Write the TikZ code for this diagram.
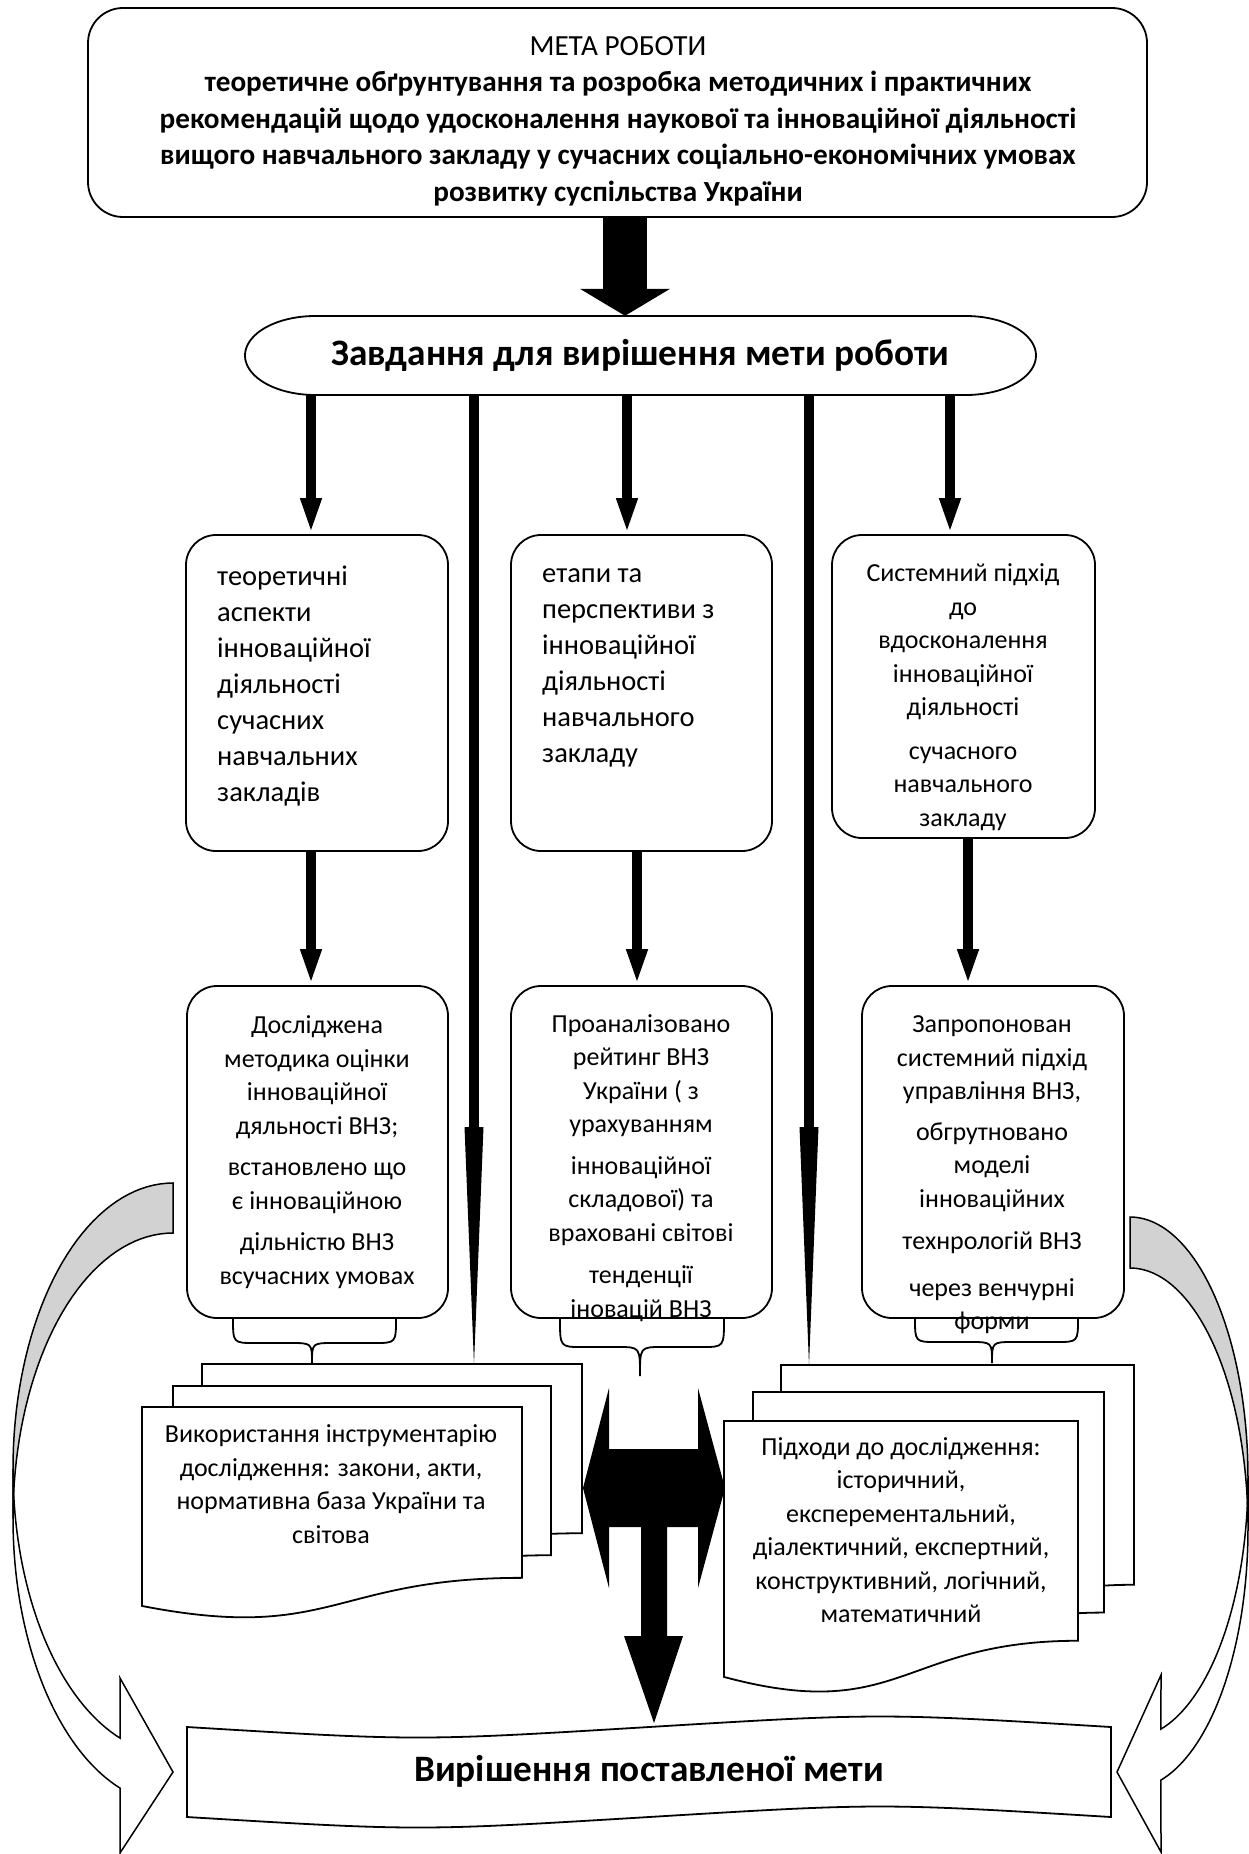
\documentclass[tikz,border=0pt]{standalone}
\usepackage{fontspec}
\setmainfont{Carlito}
\usetikzlibrary{arrows.meta}
\begin{document}
\begin{tikzpicture}[x=1pt,y=-1pt,
  rbox/.style={draw, line width=1.8pt, rounded corners=30pt, fill=white, inner sep=0pt},
  lbl/.style={inner sep=0pt, align=center},
  bigf/.style={font=\fontsize{28.5}{36}\selectfont},
  goalf/.style={font=\fontsize{29.2}{36.5}\selectfont},
  smf/.style={font=\fontsize{26}{33.5}\selectfont},
  headf/.style={font=\fontsize{37.3}{42}\selectfont\bfseries},
  thickarrow/.style={line width=10pt, -{Triangle[length=36pt,width=19pt]}},
  shaft/.style={line width=10pt},
  bracestyle/.style={line width=1.8pt},
  docstyle/.style={draw, line width=1.8pt, fill=white},
  curvestyle/.style={draw, line width=1.5pt},
]
\useasboundingbox (0,0) rectangle (1249,1854);

% ---------- curved side arrows (background) ----------
% left
\filldraw[curvestyle, fill=gray!35]
  plot[domain=270:180, samples=40, variable=\t] ({173+160*cos(\t)},{1468.6+285.6*sin(\t)})
  -- plot[domain=180:270, samples=40, variable=\t] ({173+160*cos(\t)},{1518.6+285.6*sin(\t)}) -- cycle;
\filldraw[curvestyle, fill=white]
  plot[domain=180:109.3, samples=40, variable=\t] ({173+160*cos(\t)},{1468.6+285.6*sin(\t)})
  -- (120,1678) -- (173,1772) -- (120,1853)
  -- plot[domain=109.3:180, samples=40, variable=\t] ({173+160*cos(\t)},{1518.6+285.6*sin(\t)}) -- cycle;
% right
\filldraw[curvestyle, fill=gray!35]
  plot[domain=270:360, samples=40, variable=\t] ({1130+118*cos(\t)},{1477.6+260.6*sin(\t)})
  -- plot[domain=360:270, samples=40, variable=\t] ({1130+118*cos(\t)},{1528.6+260.6*sin(\t)}) -- cycle;
\filldraw[curvestyle, fill=white]
  plot[domain=360:434.8, samples=40, variable=\t] ({1130+118*cos(\t)},{1477.6+260.6*sin(\t)})
  -- (1161,1675) -- (1117,1772) -- (1161,1852)
  -- plot[domain=434.8:360, samples=40, variable=\t] ({1130+118*cos(\t)},{1528.6+260.6*sin(\t)}) -- cycle;

% ---------- boxes ----------
\node[rbox, rounded corners=35pt, minimum width=1059pt, minimum height=209pt] (goal) at (617.5,112.5) {};
\node[inner sep=0pt, minimum width=791pt, minimum height=79pt] (zad) at (640.5,355.5) {};
\filldraw[line width=1.8pt, fill=white]
  plot[domain=-90:90, samples=40, variable=\t] ({966+70*cos(\t)},{355.5+39.5*sin(\t)})
  -- plot[domain=90:270, samples=40, variable=\t] ({315+70*cos(\t)},{355.5+39.5*sin(\t)}) -- cycle;

\node[rbox, minimum width=262pt, minimum height=316pt] (b1) at (317,693) {};
\node[rbox, minimum width=261pt, minimum height=316pt] (b2) at (641.5,693) {};
\node[rbox, minimum width=263pt, minimum height=303pt] (b3) at (963.5,686.5) {};
\node[rbox, minimum width=261pt, minimum height=332pt] (c1) at (317.5,1152) {};
\node[rbox, minimum width=261pt, minimum height=332pt] (c2) at (641.5,1152) {};
\node[rbox, minimum width=262pt, minimum height=332pt] (c3) at (993,1152) {};

% ---------- x positions ----------
\coordinate (xbig) at (625,0);
\coordinate (xa1) at (311,0);
\coordinate (xl2) at (474,0);
\coordinate (xa3) at (627,0);
\coordinate (xl4) at (809,0);
\coordinate (xa5) at (950,0);
\coordinate (xb2) at (637,0);
\coordinate (xb3) at (968,0);
\coordinate (hL) at (474,1127);
\coordinate (hR) at (809,1127);
\coordinate (dLtop) at (474,1364);
\coordinate (dRtop) at (809,1365);

% ---------- connectors ----------
\draw[line width=44pt, -{Triangle[length=27pt,width=89pt]}] (goal.south -| xbig) -- (zad.north -| xbig);
\draw[thickarrow] (zad.south -| xa1) -- (b1.north -| xa1);
\draw[thickarrow] (zad.south -| xa3) -- (b2.north -| xa3);
\draw[thickarrow] (zad.south -| xa5) -- (b3.north -| xa5);
\draw[shaft] (zad.south -| xl2) -- (hL);
\fill ([xshift=-9.5pt]hL) -- ([xshift=9.5pt]hL) -- (dLtop) -- cycle;
\draw[shaft] (zad.south -| xl4) -- (hR);
\fill ([xshift=-9.5pt]hR) -- ([xshift=9.5pt]hR) -- (dRtop) -- cycle;
\draw[thickarrow] (b1.south -| xa1) -- (c1.north -| xa1);
\draw[thickarrow] (b2.south -| xb2) -- (c2.north -| xb2);
\draw[thickarrow] (b3.south -| xb3) -- (c3.north -| xb3);

% ---------- braces ----------
\draw[bracestyle] (233,1318) .. controls (233,1343) .. (255,1343) -- (290,1343)
  .. controls (312,1343) .. (312,1363) .. controls (312,1343) .. (334,1343) -- (374,1343)
  .. controls (396,1343) .. (396,1318);
\draw[bracestyle] (560,1319) .. controls (560,1347) .. (582,1347) -- (618,1347)
  .. controls (640,1347) .. (640,1376) .. controls (640,1347) .. (662,1347) -- (702,1347)
  .. controls (724,1347) .. (724,1319);
\draw[bracestyle] (915,1318) .. controls (915,1342) .. (937,1342) -- (970,1342)
  .. controls (992,1342) .. (992,1363) .. controls (992,1342) .. (1014,1342) -- (1056,1342)
  .. controls (1078,1342) .. (1078,1318);

% ---------- documents ----------
\newcommand\docpg[4]{\filldraw[docstyle] (#1,#3) -- (#2,#3) -- (#2,{#3+0.802*#4})
  .. controls ({(#1+#2)/2},{#3+0.802*#4}) and ({(#1+#2)/2},{#3+1.1075*#4}) .. (#1,{#3+0.934*#4}) -- cycle;}
\docpg{202}{582}{1364}{211}
\docpg{173}{551}{1386}{211}
\docpg{142}{522}{1407}{213}
\docpg{781}{1134}{1365}{274}
\docpg{753}{1104}{1392}{275}
\docpg{724}{1078}{1421}{274}

% ---------- central black arrows ----------
\fill (583,1488) -- (609,1388) -- (609,1449) -- (698,1449) -- (698,1388) -- (725,1488)
  -- (698,1588) -- (698,1527) -- (667,1527) -- (667,1636) -- (683,1636) -- (654,1723)
  -- (624,1636) -- (641,1636) -- (641,1527) -- (609,1527) -- (609,1588) -- cycle;

% ---------- result banner ----------
\filldraw[docstyle] (187,1727) .. controls (418,1741) .. (649,1727) .. controls (880,1713) .. (1111,1727)
  -- (1111,1817) .. controls (880,1803) .. (649,1817) .. controls (418,1831) .. (187,1817) -- cycle;

% ---------- texts ----------
\node[lbl, goalf] (goalt) at (618,121) {МЕТА РОБОТИ\\
  \textbf{теоретичне обґрунтування та розробка методичних і практичних}\\
  \textbf{рекомендацій щодо удосконалення наукової та інноваційної діяльності}\\
  \textbf{вищого навчального закладу у сучасних соціально-економічних умовах}\\
  \textbf{розвитку суспільства України}};
\node[lbl, headf] (zadt) at (zad) {Завдання для вирішення мети роботи};
\node[lbl, bigf, align=left, anchor=west] (b1t) at (217,686)
  {теоретичні\\аспекти\\інноваційної\\діяльності\\сучасних\\навчальних\\закладів};
\node[lbl, bigf, align=left, anchor=west] (b2t) at (542,668)
  {етапи та\\перспективи з\\інноваційної\\діяльності\\навчального\\закладу};
\node[lbl, smf] (b3t) at (963,697)
  {Системний підхід\\до\\вдосконалення\\інноваційної\\діяльності\\[10pt]сучасного\\навчального\\закладу};
\node[lbl, smf] (c1t) at (317,1152)
  {Досліджена\\методика оцінки\\інноваційної\\дяльності ВНЗ;\\[8pt]встановлено що\\є інноваційною\\[8pt]дільністю ВНЗ\\всучасних умовах};
\node[lbl, smf] (c2t) at (641,1168)
  {Проаналізовано\\рейтинг ВНЗ\\України ( з\\урахуванням\\[8pt]інноваційної\\складової) та\\враховані світові\\[9pt]тенденції\\іновацій ВНЗ};
\node[lbl, smf] (c3t) at (992,1175)
  {Запропонован\\системний підхід\\управління ВНЗ,\\[7pt]обгрутновано\\моделі\\інноваційних\\[9pt]технрологій ВНЗ\\[13pt]через венчурні\\форми};
\node[lbl, smf] (dLt) at (331,1484)
  {Використання інструментарію\\дослідження: закони, акти,\\нормативна база України та\\світова};
\node[lbl, smf] (dRt) at (901,1530)
  {Підходи до дослідження:\\історичний,\\експерементальний,\\діалектичний, експертний,\\конструктивний, логічний,\\математичний};
\node[lbl, headf] (rest) at (649,1771) {Вирішення поставленої мети};
\end{tikzpicture}
\end{document}
